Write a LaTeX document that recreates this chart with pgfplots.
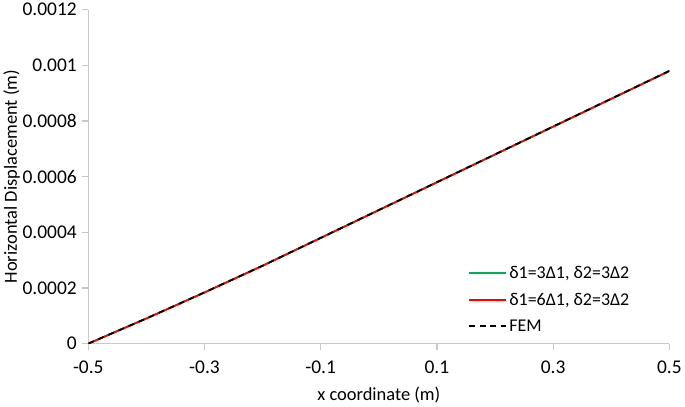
\documentclass[border=0pt]{standalone}
\usepackage{pgfplots}
\pgfplotsset{compat=1.18}
\usepackage{fontspec}
\setmainfont{Carlito}
\definecolor{axgray}{RGB}{200,200,200}
\definecolor{xlgreen}{RGB}{0,176,80}
\definecolor{xlred}{RGB}{255,0,0}
\pgfplotsset{
  every axis legend/.append style={},
  legend image code/.code={\draw[#1] (0pt,0pt) -- (38pt,0pt);},
}
\begin{document}
\begin{tikzpicture}
\begin{axis}[
  scale only axis,
  width=583pt, height=335pt,
  xmin=-0.5, xmax=0.5, ymin=0, ymax=0.0012,
  xtick={-0.5,-0.3,-0.1,0.1,0.3,0.5},
  ytick={0,0.0002,0.0004,0.0006,0.0008,0.001,0.0012},
  scaled ticks=false,
  /pgf/number format/assume math mode=true,
  yticklabel style={/pgf/number format/fixed,/pgf/number format/precision=4, xshift=-2pt},
  xticklabel style={/pgf/number format/fixed,/pgf/number format/precision=1, yshift=-8pt},
  axis x line*=bottom, axis y line*=left,
  axis line style={axgray, line width=1.2pt, -},
  tick style={axgray, line width=1.2pt},
  tick align=outside, major tick length=6pt,
  xlabel={x coordinate (m)}, ylabel={Horizontal Displacement (m)},
  every axis label/.append style={font=\fontsize{18.5}{21}\selectfont},
  ticklabel style={font=\fontsize{19.5}{22}\selectfont},
  xlabel style={yshift=-6pt},
  ylabel style={yshift=-4pt},
  legend style={draw=none, fill=none, at={(0.94,0.02)}, anchor=south east,
    font=\fontsize{18}{21}\selectfont, row sep=9pt},
  legend cell align=left,
]
\addplot[color=xlgreen, line width=1.8pt] coordinates {
(-0.5,0) (-0.4,0.00009) (-0.3,0.0001835) (-0.2,0.0002795) (-0.1,0.0003795) (0,0.0004795) (0.1,0.0005795) (0.2,0.0006795) (0.3,0.0007795) (0.4,0.0008795) (0.5,0.0009795)};
\addlegendentry{δ1=3Δ1, δ2=3Δ2}
\addplot[color=xlred, line width=1.8pt] coordinates {
(-0.5,0) (-0.4,0.0000905) (-0.3,0.000184) (-0.2,0.00028) (-0.1,0.00038) (0,0.00048) (0.1,0.00058) (0.2,0.00068) (0.3,0.00078) (0.4,0.00088) (0.5,0.00098)};
\addlegendentry{δ1=6Δ1, δ2=3Δ2}
\addplot[color=black, line width=1.8pt, dash pattern=on 6pt off 5pt] coordinates {
(-0.5,0) (-0.4,0.0000905) (-0.3,0.000184) (-0.2,0.00028) (-0.1,0.00038) (0,0.00048) (0.1,0.00058) (0.2,0.00068) (0.3,0.00078) (0.4,0.00088) (0.5,0.00098)};
\addlegendentry{FEM}
\end{axis}
\end{tikzpicture}
\end{document}
